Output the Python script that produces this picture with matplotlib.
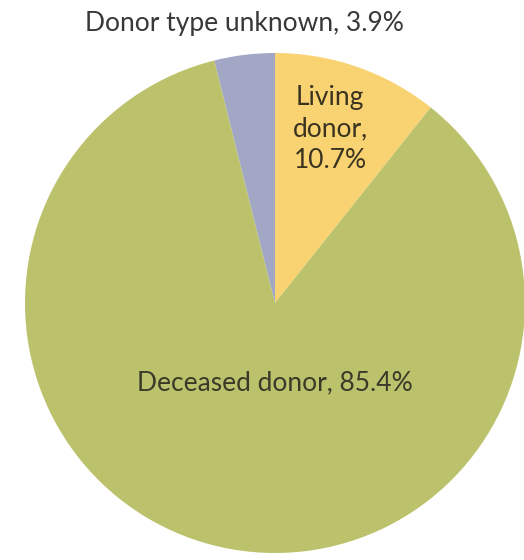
import matplotlib
matplotlib.use("Agg")
import matplotlib.pyplot as plt

categories = ["Living donor", "Deceased donor", "Donor type unknown"]
values = [10.7, 85.4, 3.9]
colors = ["#F9D372", "#BCC26C", "#A2A7C6"]

plt.rcParams['font.family'] = ['Lato', 'DejaVu Sans']

cx, cy, r = 275, 303, 250
fig = plt.figure(figsize=(5.24, 5.6), dpi=100)
ax = fig.add_axes([(cx - r)/524, (560 - cy - r)/560, 2*r/524, 2*r/560])
wedges, _ = ax.pie(values, colors=colors, startangle=90, counterclock=False,
                   radius=1.0, wedgeprops=dict(linewidth=0))
ax.set_xlim(-1, 1)
ax.set_ylim(-1, 1)
ax.set_aspect('equal')
ax.axis('off')

fs = 19
fig.text(244/524, 1 - 24/560, f"{categories[2]}, {values[2]}%", ha='center', va='center',
         fontsize=fs, color='#383838')
ax.text(0.22, 0.696, f"Living\ndonor,\n{values[0]}%", ha='center', va='center',
        fontsize=fs, color='#3a3320', linespacing=1.35)
ax.text(0.0, -0.32, f"{categories[1]}, {values[1]}%", ha='center', va='center',
        fontsize=fs, color='#3a3a28')

fig.savefig("out.png", dpi=100)
